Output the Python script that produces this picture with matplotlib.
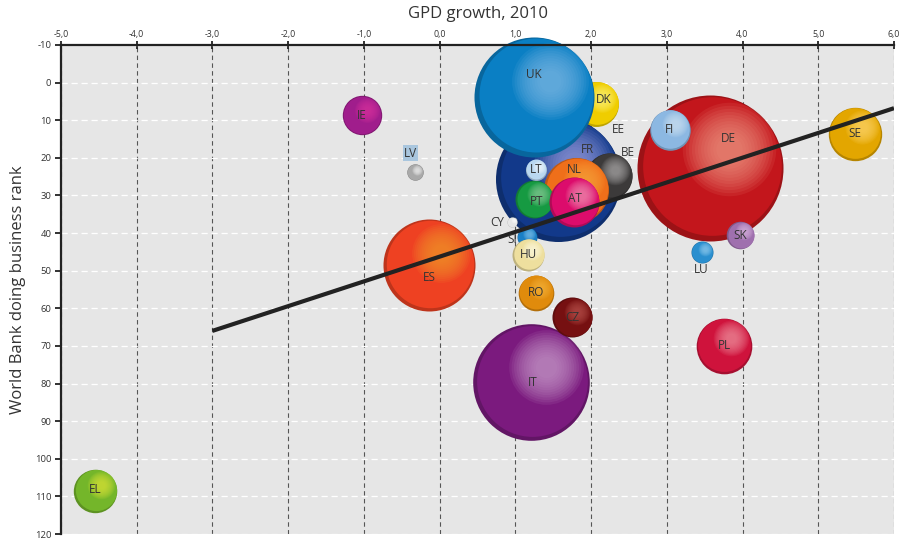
import numpy as np
import matplotlib
matplotlib.use("Agg")
import matplotlib.pyplot as plt
from matplotlib.transforms import ScaledTranslation
from matplotlib.colors import to_rgb
import matplotlib.ticker as mticker

# ---------------- data (drawing order) ----------------
countries = ['EE', 'DE', 'DK', 'FR', 'BE', 'UK', 'IT', 'ES', 'NL', 'PL', 'SE', 'PT', 'AT',
             'EL', 'FI', 'CZ', 'IE', 'RO', 'SI', 'HU', 'SK', 'LU', 'LT', 'LV', 'CY']
gdp_growth = [2.2, 3.57, 2.07, 1.56, 2.24, 1.25, 1.2, -0.14, 1.8, 3.75, 5.48, 1.25, 1.78,
              -4.55, 3.04, 1.75, -1.03, 1.27, 1.15, 1.17, 3.97, 3.46, 1.27, -0.33, 0.96]
business_rank = [20, 22.7, 5.6, 25.6, 24.8, 3.8, 79.7, 48.5, 28.5, 69.9, 13.6, 31, 31.7,
                 108.6, 12.5, 62.4, 8.7, 55.8, 41, 45.7, 40.5, 45, 23.1, 23.8, 37]
gdp_size = [14, 2500, 237, 1833, 250, 1689, 1595, 993, 496, 363, 334, 169, 293,
            221, 193, 188, 182, 149, 47, 120, 89, 57, 52, 32, 12]

trend_x = [-3.0, 6.0]
trend_y = [66.0, 6.8]

x_ticks = [-5, -4, -3, -2, -1, 0, 1, 2, 3, 4, 5, 6]
y_ticks = list(range(-10, 121, 10))

# ---------------- styles ----------------
colors = {
    'DE': ('#c3161c', '#f19a86'), 'FR': ('#12398a', '#9a9ee0'), 'UK': ('#0a7fc4', '#7dbbe6'),
    'IT': ('#7b1a7e', '#c99ccc'), 'ES': ('#ee4122', '#f7962e'), 'NL': ('#ef6f1a', '#fba53c'),
    'AT': ('#dc0c6c', '#f28fb2'), 'PT': ('#169a42', '#86cb94'), 'LT': ('#b9d7f0', '#f4f9ff'),
    'BE': ('#3c3a3a', '#a8a6a6'), 'DK': ('#efcd00', '#fff37a'), 'FI': ('#8cb8e2', '#cfe2f4'),
    'SE': ('#e3a600', '#ffd66a'), 'SK': ('#9f70ae', '#d8b4de'), 'LU': ('#2a8fcf', '#8ccbef'),
    'PL': ('#cf133c', '#f08d9c'), 'CZ': ('#761011', '#b9504c'), 'RO': ('#e08b0c', '#f6b33a'),
    'HU': ('#eedf9e', '#fffbe0'), 'SI': ('#1a7fc6', '#79bde8'), 'CY': ('#e6e6e6', '#ffffff'),
    'LV': ('#a9a9a9', '#f0f0f0'), 'IE': ('#a01d8c', '#d8339f'), 'EL': ('#74b62a', '#dae43a'),
    'EE': ('#5a7fa8', '#a9c4e0'),
}
label_off_px = {
    'UK': (0, -22), 'DE': (18, -30), 'FR': (30, -29), 'IT': (2, 0), 'ES': (0, 12),
    'NL': (-2, -20), 'AT': (1, -3), 'PT': (2, 2), 'LT': (0, 0), 'BE': (19, -23),
    'DK': (7, -4), 'EE': (12, -28), 'FI': (0, 0), 'SE': (0, 0), 'SK': (0, 1),
    'LU': (0, 18), 'PL': (1, 0), 'CZ': (0, 0), 'RO': (0, 0), 'HU': (0, 0),
    'SI': (-14, 3), 'CY': (-15, 1), 'LV': (-4, -19), 'IE': (0, 0), 'EL': (0, -2),
}

plt.rcParams['font.family'] = ['Open Sans', 'DejaVu Sans']
DPI = 100
fig = plt.figure(figsize=(9.02, 5.39), dpi=DPI)
ax = fig.add_axes([61 / 902, 1 - 534 / 539, (894 - 61) / 902, (534 - 45) / 539])
ax.set_facecolor('#e6e6e6')
ax.set_xlim(-5, 6)
ax.set_ylim(120, -10)

PX_PER_UNIT = 1.46  # radius px per sqrt(size)
pt = 72.0 / DPI


def circ(x, y, r_px, frac, dx, dy, col, alpha=1.0):
    tr = ax.transData + ScaledTranslation(dx * r_px / DPI, dy * r_px / DPI, fig.dpi_scale_trans)
    ax.scatter([x], [y], s=(2 * frac * r_px * pt) ** 2, color=col, alpha=alpha,
               linewidths=0, transform=tr, zorder=3, clip_on=False)


for c, gx, gy, sz in zip(countries, gdp_growth, business_rank, gdp_size):
    r = PX_PER_UNIT * np.sqrt(sz)
    base, hi = colors[c]
    base = np.array(to_rgb(base))
    hi = np.array(to_rgb(hi))
    dark = base * 0.8
    circ(gx, gy, r, 1.0, 0, 0, dark)
    circ(gx, gy, r, 0.95, 0.03, 0.03, base)
    fr = np.linspace(0.64, 0.18, 12)
    for f in fr:
        circ(gx, gy, r, f, 0.26, 0.26, hi, 0.11)

ax.plot(trend_x, trend_y, color='#222222', lw=3.0, zorder=5, solid_capstyle='butt')

for c, gx, gy in zip(countries, gdp_growth, business_rank):
    dx, dy = label_off_px[c]
    kw = {}
    if c == 'LV':
        kw['bbox'] = dict(boxstyle='square,pad=0.1', fc='#a9c6de', ec='none')
    ax.annotate(c, (gx, gy), xytext=(dx * pt, -dy * pt), textcoords='offset points',
                ha='center', va='center', fontsize=8.5, color='#333333', zorder=6, **kw)

# axes styling
ax.xaxis.tick_top()
ax.xaxis.set_label_position('top')
ax.set_xticks(x_ticks)
ax.set_yticks(y_ticks)
ax.xaxis.set_major_formatter(mticker.FuncFormatter(lambda v, p: f"{v:.1f}".replace('.', ',')))
ax.yaxis.set_major_formatter(mticker.FuncFormatter(lambda v, p: f"{int(v)}"))
ax.tick_params(axis='x', direction='inout', length=6, width=1.3, labelsize=6.3, pad=1,
               colors='#222222', labelcolor='#333333')
ax.tick_params(axis='y', direction='out', length=4, width=1.3, labelsize=6.8, pad=3,
               colors='#222222', labelcolor='#333333')
for s in ['right', 'bottom']:
    ax.spines[s].set_visible(False)
for s in ['top', 'left']:
    ax.spines[s].set_linewidth(1.6)
    ax.spines[s].set_color('#222222')
    ax.spines[s].set_zorder(4)

ax.set_axisbelow(True)
ax.xaxis.grid(True, color='#555555', linestyle=(0, (4, 3)), lw=0.8)
ax.yaxis.grid(True, color='white', linestyle=(0, (5, 3)), lw=0.9)

ax.set_xlabel('GPD growth, 2010', fontsize=12, color='#333333', labelpad=9)
ax.set_ylabel('World Bank doing business rank', fontsize=12, color='#333333', labelpad=6)

fig.savefig('out.png', dpi=DPI)
